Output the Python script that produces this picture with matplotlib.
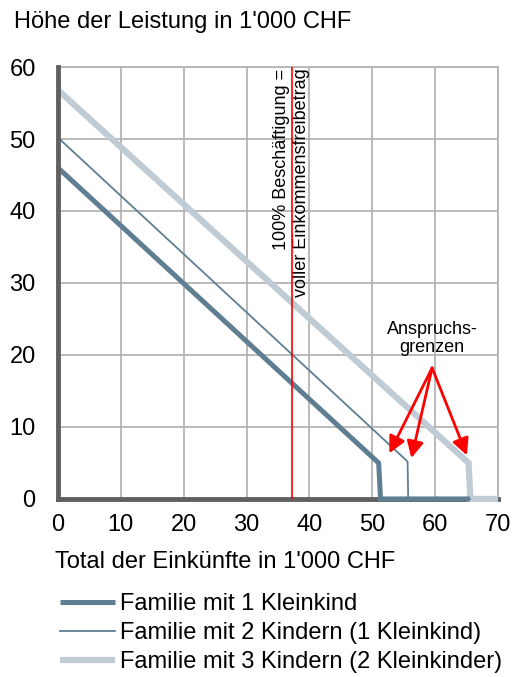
import matplotlib.pyplot as plt

plt.rcParams['font.family'] = ['Liberation Sans', 'DejaVu Sans']

# Leistungsverlauf je Familientyp (Einkommen, Leistung) in 1'000 CHF
x_fam1 = [0, 51.0, 51.3, 65.5]
y_fam1 = [46.0, 5.0, 0, 0]
x_fam2 = [0, 55.6, 55.7, 65.5]
y_fam2 = [50.2, 5.2, 0, 0]
x_fam3 = [0, 65.3, 65.6, 70]
y_fam3 = [56.8, 5.0, 0, 0]

labels = ["Familie mit 1 Kleinkind",
          "Familie mit 2 Kindern (1 Kleinkind)",
          "Familie mit 3 Kindern (2 Kleinkinder)"]

freibetrag_x = 37.2
arrow_tail = (59.5, 18.2)
arrow_heads = [(52.5, 6.0), (56.1, 5.3), (65.2, 5.7)]

xticks = [0, 10, 20, 30, 40, 50, 60, 70]
yticks = [0, 10, 20, 30, 40, 50, 60]

dark = "#5f7e92"
light = "#c0ccd4"

fig = plt.figure(figsize=(5.13, 6.77), dpi=100)
ax = fig.add_axes([0.113, 0.263, 0.858, 0.638])

l3, = ax.plot(x_fam3, y_fam3, color=light, lw=4.5, solid_joinstyle='miter',
              solid_capstyle='butt', zorder=3, clip_on=False)
l1, = ax.plot(x_fam1, y_fam1, color=dark, lw=3.6, solid_joinstyle='miter',
              solid_capstyle='butt', zorder=4, clip_on=False)
l2, = ax.plot(x_fam2, y_fam2, color=dark, lw=1.3, zorder=5, clip_on=False)

ax.axvline(freibetrag_x, color="red", lw=1.2, zorder=6)
ax.text(freibetrag_x - 0.3, 59.8, "100% Beschäftigung =", rotation=90,
        ha='right', va='top', fontsize=13)
ax.text(freibetrag_x + 0.2, 59.8, "voller Einkommensfreibetrag", rotation=90,
        ha='left', va='top', fontsize=13)

ax.text(arrow_tail[0], 22.3, "Anspruchs-\ngrenzen", ha='center', va='center',
        fontsize=13, linespacing=1.05)
for hx, hy in arrow_heads:
    ax.annotate("", xy=(hx, hy), xytext=arrow_tail,
                arrowprops=dict(arrowstyle="-|>,head_length=1.0,head_width=0.5",
                                color="red", lw=2, shrinkA=0), zorder=7)

ax.set_xlim(0, 70)
ax.set_ylim(0, 60)
ax.set_xticks(xticks)
ax.set_yticks(yticks)
ax.grid(True, color="#b4b4b4", lw=1.3, zorder=0)
ax.set_axisbelow(True)
ax.tick_params(length=0, labelsize=17, pad=11)
ax.tick_params(axis='y', pad=16)
for s in ['top', 'right']:
    ax.spines[s].set_color("#b4b4b4")
    ax.spines[s].set_linewidth(1.3)
for s in ['left', 'bottom']:
    ax.spines[s].set_color("#606060")
    ax.spines[s].set_linewidth(3.5)
ax.spines['bottom'].set_zorder(2.5)
ax.spines['left'].set_zorder(8)

fig.text(14 / 513, 1 - 22 / 677, "Höhe der Leistung in 1'000 CHF", fontsize=17,
         ha='left', va='center')
fig.text(55 / 513, 1 - 562 / 677, "Total der Einkünfte in 1'000 CHF", fontsize=17,
         ha='left', va='center')

fig.legend([l1, l2, l3], labels, loc='upper left', bbox_to_anchor=(60 / 513, 1 - 593 / 677),
           frameon=False, fontsize=17, handlelength=2.33, handletextpad=0.2,
           labelspacing=0.3, borderpad=0, borderaxespad=0)

fig.savefig("out.png", dpi=100)
